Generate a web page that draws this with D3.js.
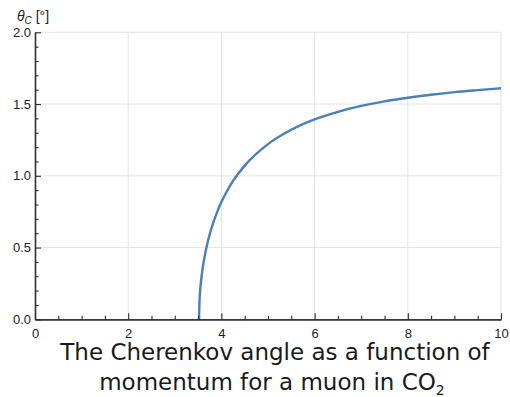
<!DOCTYPE html>
<html>
<head>
<meta charset="utf-8">
<script src="https://cdn.jsdelivr.net/npm/d3@7"></script>
<style>
  html, body { margin: 0; padding: 0; background: #fff; }
  svg { display: block; }
</style>
</head>
<body>
<svg id="chart" width="510" height="397"></svg>
<script>
// Muon momentum (GeV/c) and Cherenkov angle (degrees) in CO2
const momentum = [3.52, 3.53, 3.54, 3.55, 3.6, 3.65, 3.7, 3.75, 3.8, 3.9, 4.0, 4.1, 4.25, 4.5,
                  5.0, 5.5, 6.0, 6.5, 7.0, 7.5, 8.0, 8.5, 9.0, 9.5, 10.0];
const angle = [0.0, 0.129, 0.182, 0.223, 0.361, 0.455, 0.530, 0.593, 0.648, 0.740, 0.817, 0.882, 0.964, 1.071,
               1.221, 1.321, 1.393, 1.446, 1.487, 1.519, 1.544, 1.565, 1.583, 1.597, 1.610];
const xTicks = [0, 2, 4, 6, 8, 10];
const yTicks = [0.0, 0.5, 1.0, 1.5, 2.0];
const titleLines = ["The Cherenkov angle as a function of", "momentum for a muon in CO"];

const svg = d3.select("#chart");

const x = d3.scaleLinear().domain([0, 10]).range([35, 501]);
const y = d3.scaleLinear().domain([0, 2]).range([319.3, 32.3]);

const gridColor = "#e4e4e4";
const axisColor = "#2b2b2b";
const fontTick = "'Liberation Sans', Arial, sans-serif";

// grid lines
const grid = svg.append("g");
grid.selectAll("line.vx").data(xTicks.filter(d => d > 0)).join("line")
  .attr("x1", d => x(d)).attr("x2", d => x(d))
  .attr("y1", y(0)).attr("y2", y(2))
  .attr("stroke", gridColor).attr("stroke-width", 1);
grid.selectAll("line.hy").data(yTicks.filter(d => d > 0)).join("line")
  .attr("x1", x(0)).attr("x2", x(10))
  .attr("y1", d => y(d)).attr("y2", d => y(d))
  .attr("stroke", gridColor).attr("stroke-width", 1);

// curve
const pts = momentum.map((p, i) => [p, angle[i]]);
const line = d3.line().x(d => x(d[0])).y(d => y(d[1])).curve(d3.curveMonotoneX);
svg.append("path").datum(pts)
  .attr("d", line)
  .attr("fill", "none")
  .attr("stroke", "#4a7ebb")
  .attr("stroke-width", 2.4);

// axes with inward-pointing ticks
const xMinor = d3.range(0, 10.01, 0.5).filter(v => !xTicks.includes(v));
const yMinor = d3.range(0, 2.001, 0.1).map(v => +v.toFixed(1)).filter(v => !yTicks.includes(v));

const xAxisMajor = d3.axisBottom(x).tickValues(xTicks).tickSizeInner(-6).tickSizeOuter(0).tickPadding(9)
  .tickFormat(d3.format("d"));
const xAxisMinor = d3.axisBottom(x).tickValues(xMinor).tickSizeInner(-3.5).tickSizeOuter(0).tickFormat("");
const yAxisMajor = d3.axisLeft(y).tickValues(yTicks).tickSizeInner(-6).tickSizeOuter(0).tickPadding(4)
  .tickFormat(d3.format(".1f"));
const yAxisMinor = d3.axisLeft(y).tickValues(yMinor).tickSizeInner(-3.5).tickSizeOuter(0).tickFormat("");

function styleAxis(g) {
  g.attr("font-size", 13).attr("font-family", fontTick);
  g.select(".domain").attr("stroke", axisColor).attr("stroke-width", 1.3);
  g.selectAll(".tick line").attr("stroke", axisColor).attr("stroke-width", 1.1);
  g.selectAll(".tick text").attr("fill", "#222");
}

svg.append("g").attr("transform", `translate(0,${y(0)})`).call(xAxisMinor).call(styleAxis);
svg.append("g").attr("transform", `translate(0,${y(0)})`).call(xAxisMajor).call(styleAxis);
svg.append("g").attr("transform", `translate(${x(0)},0)`).call(yAxisMinor).call(styleAxis);
svg.append("g").attr("transform", `translate(${x(0)},0)`).call(yAxisMajor).call(styleAxis);

// y-axis label
const yl = svg.append("text")
  .attr("x", 17).attr("y", 21)
  .attr("fill", "#222")
  .style("font-family", fontTick)
  .style("font-size", "14px");
yl.append("tspan").text("θ").style("font-style", "italic");
yl.append("tspan").text("C").style("font-style", "italic").style("font-size", "10px").attr("dy", 3);
yl.append("tspan").text(" [°]").attr("dy", -3);

// title
const fontTitle = "'DejaVu Sans', sans-serif";
svg.append("text")
  .attr("x", 275).attr("y", 360)
  .attr("text-anchor", "middle")
  .attr("fill", "#1a1a1a")
  .style("font-family", fontTitle)
  .style("font-size", "23px")
  .text(titleLines[0]);
const t2 = svg.append("text")
  .attr("x", 272).attr("y", 390)
  .attr("text-anchor", "middle")
  .attr("fill", "#1a1a1a")
  .style("font-family", fontTitle)
  .style("font-size", "23px");
t2.append("tspan").text(titleLines[1]);
t2.append("tspan").text("2").style("font-size", "14px").attr("dy", 5);
</script>
</body>
</html>
